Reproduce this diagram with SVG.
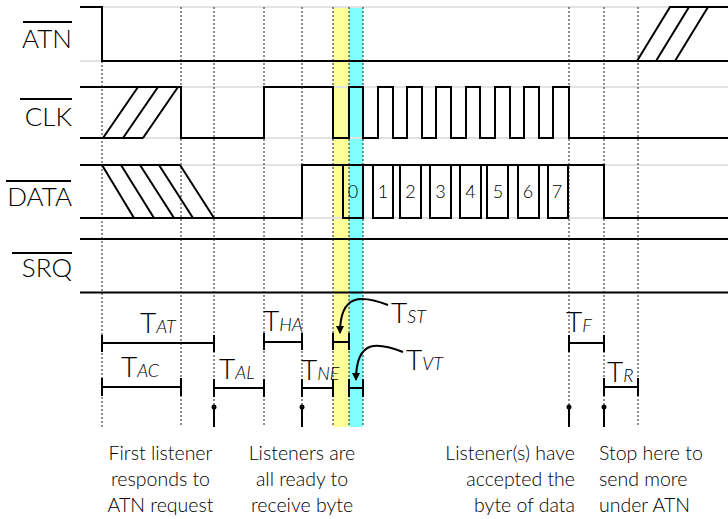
<svg xmlns="http://www.w3.org/2000/svg" width="728" height="519" viewBox="0 0 728 519">
<style>
.grid{stroke:#e2e2e2;stroke-width:2;fill:none}
.sig{stroke:#000;stroke-width:2;fill:none;stroke-linejoin:miter}
.dot{stroke:#222;stroke-width:1;stroke-dasharray:2 2;fill:none}
.mk{stroke:#000;stroke-width:2;fill:none}
.bar{stroke:#000;stroke-width:2;fill:none}
.lbl{font-family:Lato,"Liberation Sans",sans-serif;font-weight:300;font-size:26px;fill:#000;text-anchor:end}
.ov{stroke:#000;stroke-width:1.8}
.dig{font-family:Lato,"Liberation Sans",sans-serif;font-weight:300;font-size:18px;fill:#000;text-anchor:middle}
.t{font-family:Lato,"Liberation Sans",sans-serif;font-weight:300;font-size:28px;fill:#000}
.s{font-style:italic;font-size:18px}
.note{font-family:Lato,"Liberation Sans",sans-serif;font-weight:300;font-size:19.5px;fill:#000}
</style>
<defs>
<marker id="ah" markerWidth="8" markerHeight="8" refX="7" refY="4" orient="auto" markerUnits="userSpaceOnUse">
<path d="M0,0 L8,4 L0,8 z" fill="#000"/>
</marker>
</defs>
<rect width="728" height="519" fill="#fff"/>
<g id="bands">
<rect x="333" y="7" width="16" height="420" fill="#ffff99"/>
<rect x="349" y="7" width="14" height="420" fill="#80ffff"/>
</g>
<g id="grid">
<path class="grid" d="M80,7H728M80,61H728M80,87H728M80,138H728M80,165H728M80,218H728"/>
</g>
<g id="dotted">
<path class="dot" d="M102,61V427M181,7V427M214,7V427M264,7V427M302,7V427M333,7V427M349,7V427M363,7V427M569,7V427M604,7V427M638,7V427"/>
</g>
<g id="labels">
<text class="lbl" x="72" y="48">ATN</text><line class="ov" x1="23" y1="22" x2="72" y2="22"/>
<text class="lbl" x="72" y="126">CLK</text><line class="ov" x1="20" y1="99" x2="72" y2="99"/>
<text class="lbl" x="72" y="206">DATA</text><line class="ov" x1="6" y1="181" x2="71" y2="181"/>
<text class="lbl" x="72" y="277">SRQ</text><line class="ov" x1="12" y1="253" x2="72" y2="253"/>
</g>
<g id="atn">
<path class="sig" d="M80,7H102V61H728"/>
<path class="sig" d="M637,61L670,7H728M656,61L689,7M675,61L708,7"/>
</g>
<g id="clk">
<path class="sig" d="M80,87H181V138H264V87H333V138H349V87H363V138H378V87H393V138H407V87H422V138H436V87H451V138H466V87H480V138H495V87H510V138H524V87H539V138H553V87H569V138H728"/>
<path class="sig" d="M80,138H143M103,138L138,87M123,138L158,87M143,138L178,87"/>
</g>
<g id="data">
<path class="sig" d="M80,165H180M80,218H302V165H604V218H728"/>
<path class="sig" d="M102,165L134,218M121,165L154,218M140,165L174,218M159,165L193,218M180,165L214,218"/>
<path class="sig" d="M343,165V218H363V165M373,165V218H393V165M400,165V218H421V165M430,165V218H451V165M460,165V218H481V165M487,165V218H508V165M518,165V218H539V165M548,165V218H568V165"/>
<text class="dig" x="353" y="198">0</text>
<text class="dig" x="383" y="198">1</text>
<text class="dig" x="410.5" y="198">2</text>
<text class="dig" x="440.5" y="198">3</text>
<text class="dig" x="470.5" y="198">4</text>
<text class="dig" x="498" y="198">5</text>
<text class="dig" x="528" y="198">6</text>
<text class="dig" x="557" y="198">7</text>
</g>
<g id="srq">
<path class="sig" d="M80,239H728M80,292.5H728"/>
</g>
<g id="markers">
<path class="mk" d="M214,407V427M302,407V427M569,407V427M604,407V427"/>
<circle cx="214" cy="407" r="2.5"/><circle cx="302" cy="407" r="2.5"/><circle cx="569" cy="407" r="2.5"/><circle cx="604" cy="407" r="2.5"/>
</g>
<g id="timings">
<path class="bar" d="M102,343H214M102,335V352M214,335V352"/>
<text class="t" x="140" y="333">T<tspan class="s">AT</tspan></text>
<path class="bar" d="M102,387H181M102,378V396M181,378V396"/>
<text class="t" x="121" y="377">T<tspan class="s">AC</tspan></text>
<path class="bar" d="M214,388H264M214,379V397M264,379V397"/>
<text class="t" x="219" y="379">T<tspan class="s">AL</tspan></text>
<path class="bar" d="M264,342H302M264,333V350M302,333V350"/>
<text class="t" x="263" y="331">T<tspan class="s">HA</tspan></text>
<path class="bar" d="M302,388H333M302,379V397M333,379V397"/>
<text class="t" x="301" y="380">T<tspan class="s">NE</tspan></text>
<path class="bar" d="M333,342H349M333,333V350M349,333V350"/>
<text class="t" x="391" y="323">T<tspan class="s">ST</tspan></text>
<path class="bar" d="M349,388H363M349,379V397M363,379V397"/>
<text class="t" x="406" y="370">T<tspan class="s">VT</tspan></text>
<path class="bar" d="M569,343H604M569,335V352M604,335V352"/>
<text class="t" x="566" y="332">T<tspan class="s">F</tspan></text>
<path class="bar" d="M604,387H638M604,378V396M638,378V396"/>
<text class="t" x="607" y="382">T<tspan class="s">R</tspan></text>
</g>
<g id="connectors">
<path class="bar" d="M388,305C362,295 340,293 340,333" marker-end="url(#ah)"/>
<path class="bar" d="M403,352C380,343 356,337 356,380" marker-end="url(#ah)"/>
</g>
<g id="notes">
<text class="note" x="160.5" y="460" text-anchor="middle">First listener</text>
<text class="note" x="160.5" y="486" text-anchor="middle">responds to</text>
<text class="note" x="160.5" y="512" text-anchor="middle">ATN request</text>
<text class="note" x="302" y="460" text-anchor="middle">Listeners are</text>
<text class="note" x="302" y="486" text-anchor="middle">all ready to</text>
<text class="note" x="302" y="512" text-anchor="middle">receive byte</text>
<text class="note" x="575" y="460" text-anchor="end">Listener(s) have</text>
<text class="note" x="575" y="486" text-anchor="end">accepted the</text>
<text class="note" x="575" y="512" text-anchor="end">byte of data</text>
<text class="note" x="599" y="460">Stop here to</text>
<text class="note" x="599" y="486">send more</text>
<text class="note" x="599" y="512">under ATN</text>
</g>
</svg>
